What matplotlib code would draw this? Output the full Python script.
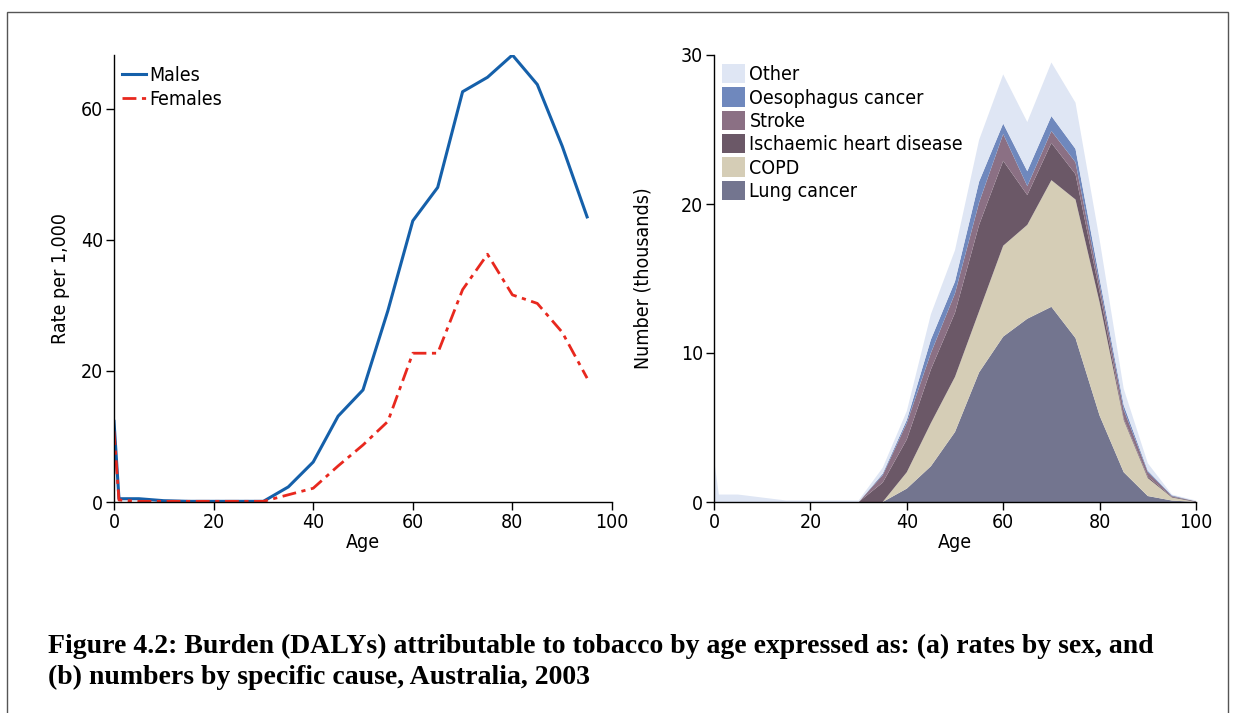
import matplotlib.pyplot as plt
from matplotlib.patches import Rectangle

# (a) rates per 1,000 by sex
ages_a = [0, 1, 5, 10, 15, 20, 25, 30, 35, 40, 45, 50, 55, 60, 65, 70, 75, 80, 85, 90, 95]
males = [12.3, 0.5, 0.5, 0.2, 0.1, 0.1, 0.1, 0.1, 2.3, 6.1, 13.1, 17.1, 29.2, 42.9, 48.0,
         62.6, 64.8, 68.2, 63.7, 54.3, 43.5]
females = [10.8, 0.3, 0.1, 0.1, 0.1, 0.1, 0.1, 0.1, 1.1, 2.1, 5.5, 8.7, 12.3, 22.7, 22.7,
           32.4, 37.8, 31.6, 30.3, 25.9, 18.9]

# (b) numbers (thousands) by cause
ages_b = [0, 1, 5, 10, 15, 20, 25, 30, 35, 40, 45, 50, 55, 60, 65, 70, 75, 80, 85, 90, 95, 100]
lung = [0, 0, 0, 0, 0, 0, 0, 0, 0, 0.9, 2.4, 4.7, 8.7, 11.1, 12.3, 13.1, 11.0, 5.8, 2.0, 0.4, 0.1, 0]
copd = [0, 0, 0, 0, 0, 0, 0, 0, 0, 1.1, 2.9, 3.7, 4.1, 6.1, 6.3, 8.5, 9.3, 7.6, 3.5, 1.2, 0.2, 0]
ihd = [0, 0, 0, 0, 0, 0, 0, 0, 1.3, 2.2, 3.6, 4.3, 5.8, 5.7, 2.0, 2.5, 1.7, 0.7, 0.1, 0.1, 0.05, 0.05]
stroke = [0, 0, 0, 0, 0, 0, 0, 0, 0.5, 1.1, 1.1, 1.3, 1.5, 1.8, 0.6, 0.8, 0.8, 0.5, 0.6, 0.3, 0.05, 0]
oesoph = [0, 0, 0, 0, 0, 0, 0, 0, 0.1, 0.2, 0.9, 0.8, 1.4, 0.7, 1.0, 1.0, 0.9, 0.4, 0.3, 0.1, 0.05, 0]
other = [2.9, 0.5, 0.5, 0.3, 0.1, 0.1, 0.1, 0.1, 0.4, 0.6, 1.7, 2.1, 2.8, 3.3, 3.3, 3.6, 3.1, 2.6,
         1.1, 0.5, 0.05, 0.05]

cause_labels = ['Lung cancer', 'COPD', 'Ischaemic heart disease', 'Stroke', 'Oesophagus cancer', 'Other']
cause_colors = ['#73758f', '#d5cdb6', '#6b5867', '#8b7084', '#6f88bd', '#dfe6f4']

plt.rcParams['font.family'] = ['DejaVu Sans']
plt.rcParams['font.stretch'] = 'condensed'
plt.rcParams['font.size'] = 14

fig = plt.figure(figsize=(12.37, 7.13), dpi=100)

# outer frame
fig.patches.append(Rectangle((7 / 1237, -0.1), (1228 - 7) / 1237, 1.1 - 12 / 713,
                             transform=fig.transFigure, fill=False,
                             edgecolor='#555555', linewidth=1))

ax1 = fig.add_axes([114 / 1237, 211 / 713, 498 / 1237, 447 / 713])
ax2 = fig.add_axes([714 / 1237, 211 / 713, 482 / 1237, 447 / 713])

ax1.plot(ages_a, males, color='#1560aa', lw=2.2, label='Males')
ax1.plot(ages_a, females, color='#e8281e', lw=2, dashes=(5, 2, 1.5, 2), label='Females')
ax1.set_xlim(0, 100)
ax1.set_ylim(0, 68.2)
ax1.set_xticks([0, 20, 40, 60, 80, 100])
ax1.set_yticks([0, 20, 40, 60])
ax1.set_xlabel('Age', labelpad=1)
ax1.set_ylabel('Rate per 1,000', labelpad=8)
ax1.legend(loc='upper left', bbox_to_anchor=(0.016, 0.975), frameon=False, borderpad=0,
           handlelength=1.25, handletextpad=0.15, labelspacing=0.25, borderaxespad=0)

ax2.stackplot(ages_b, lung, copd, ihd, stroke, oesoph, other,
              colors=cause_colors, labels=cause_labels, lw=0)
ax2.set_xlim(0, 100)
ax2.set_ylim(0, 30)
ax2.set_xticks([0, 20, 40, 60, 80, 100])
ax2.set_yticks([0, 10, 20, 30])
ax2.set_xlabel('Age', labelpad=1)
ax2.set_ylabel('Number (thousands)', labelpad=20)
h, l = ax2.get_legend_handles_labels()
ax2.legend(h[::-1], l[::-1], loc='upper left', bbox_to_anchor=(0.017, 0.98), frameon=False,
           borderpad=0, handlelength=1.15, handleheight=1.15, handletextpad=0.25,
           labelspacing=0.16, borderaxespad=0)

for ax in (ax1, ax2):
    ax.spines['top'].set_visible(False)
    ax.spines['right'].set_visible(False)
    ax.spines['left'].set_linewidth(1)
    ax.spines['bottom'].set_linewidth(1)
    ax.tick_params(direction='out', length=6, width=1, pad=2, labelsize=14)

fig.text(48 / 1237, 1 - 646 / 713,
         'Figure 4.2: Burden (DALYs) attributable to tobacco by age expressed as: (a) rates by sex, and',
         family='Liberation Serif', fontweight='bold', fontsize=20, va='center', stretch='normal')
fig.text(48 / 1237, 1 - 677 / 713,
         '(b) numbers by specific cause, Australia, 2003',
         family='Liberation Serif', fontweight='bold', fontsize=20, va='center', stretch='normal')

fig.savefig('out.png', dpi=100)
